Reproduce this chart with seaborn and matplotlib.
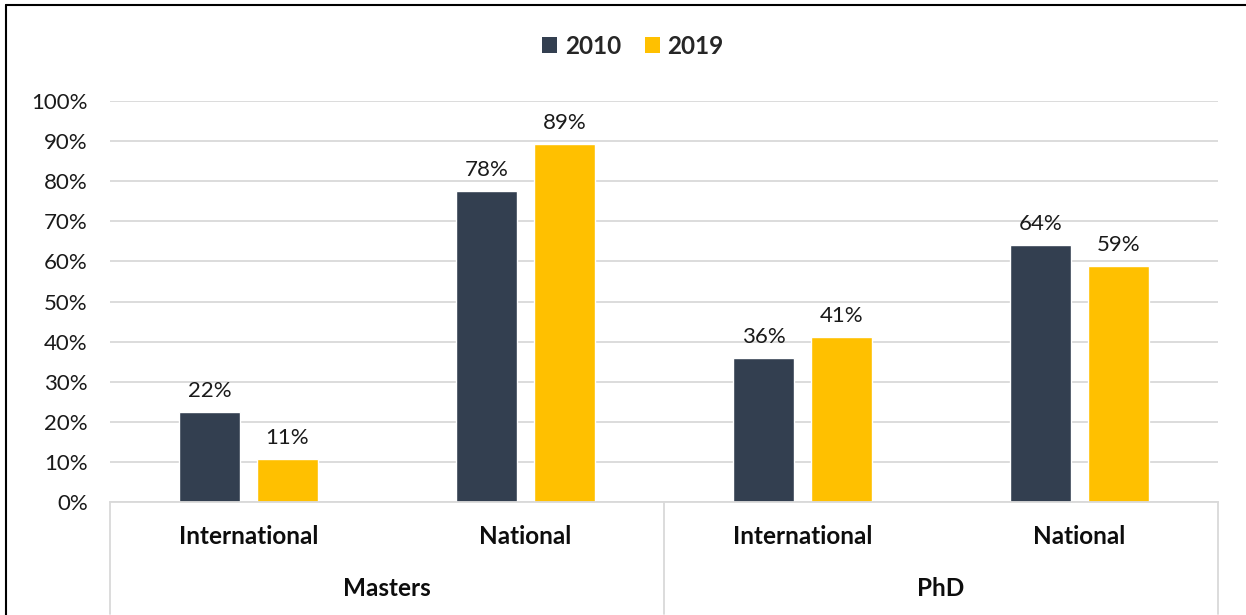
import matplotlib
matplotlib.use("Agg")
import matplotlib.pyplot as plt
from matplotlib.lines import Line2D
from matplotlib.patches import Patch
from matplotlib.transforms import blended_transform_factory
import seaborn as sns
import pandas as pd

# Share of graduates by degree level and origin
degrees = ["Masters", "Masters", "PhD", "PhD"]
origins = ["International", "National", "International", "National"]
years = ["2010", "2019"]
share_2010 = [0.224, 0.776, 0.360, 0.641]
share_2019 = [0.107, 0.893, 0.412, 0.588]

colors = {"2010": "#333F50", "2019": "#FFC000"}
grid_color = "#D9D9D9"

keys = [f"{d}|{o}" for d, o in zip(degrees, origins)]
df = pd.DataFrame({
    "key": keys * 2,
    "year": ["2010"] * 4 + ["2019"] * 4,
    "share": share_2010 + share_2019,
})

sns.set_theme(style="white")
plt.rcParams["font.family"] = ["Lato", "DejaVu Sans"]

fig = plt.figure(figsize=(12.46, 6.15), dpi=100)
ax = fig.add_axes([110 / 1246, 1 - 502 / 615, (1218 - 110) / 1246, (502 - 101) / 615])

sns.barplot(data=df, x="key", y="share", hue="year", order=keys,
            hue_order=years, palette=colors, width=0.56, gap=0.214,
            saturation=1, ax=ax, legend=False, errorbar=None)

ax.set_xlim(-0.5, 3.5)
ax.set_ylim(0, 1.0)
ax.set_yticks([i / 10 for i in range(11)])
ax.set_yticklabels([f"{i * 10}%" for i in range(11)], fontsize=16, color="#1a1a1a")
ax.tick_params(axis="y", length=0, pad=16)
ax.set_xticks([])
ax.set_xlabel("")
ax.set_ylabel("")
ax.grid(axis="y", color=grid_color, linewidth=1.3)
ax.set_axisbelow(True)
for side in ["left", "right", "top"]:
    ax.spines[side].set_visible(False)
ax.spines["bottom"].set_color(grid_color)
ax.spines["bottom"].set_linewidth(1.3)

for container in ax.containers:
    ax.bar_label(container, labels=[f"{v * 100:.0f}%" for v in container.datavalues],
                 padding=8, fontsize=16, color="#1a1a1a")

# Two-level category axis
trans = blended_transform_factory(ax.transData, ax.transAxes)
for xpos in [-0.5, 1.5, 3.5]:
    ax.add_line(Line2D([xpos, xpos], [0, -0.28], transform=trans, color=grid_color,
                       linewidth=1.3, clip_on=False))
for i, origin in enumerate(origins):
    ax.text(i, -0.085, origin, transform=trans, ha="center", va="center",
            fontsize=17.5, fontweight="bold", color="#0d0d0d")
for i, degree in enumerate(["Masters", "PhD"]):
    ax.text(2 * i + 0.5, -0.215, degree, transform=trans, ha="center", va="center",
            fontsize=17.5, fontweight="bold", color="#0d0d0d")

handles = [Patch(facecolor=colors[y], edgecolor="none", label=y) for y in years]
fig.legend(handles=handles, loc="center", bbox_to_anchor=(633 / 1246, 1 - 46 / 615),
           ncol=2, frameon=False, handlelength=0.62, handleheight=0.62,
           handletextpad=0.3, columnspacing=1.0,
           prop={"weight": "bold", "size": 17.5})

# Outer frame edges
fig.add_artist(Line2D([6 / 1246, 1], [1 - 5 / 615, 1 - 5 / 615], transform=fig.transFigure,
                      color="black", linewidth=1.5))
fig.add_artist(Line2D([6 / 1246, 6 / 1246], [0, 1 - 5 / 615], transform=fig.transFigure,
                      color="black", linewidth=1.5))

fig.savefig("out.png", dpi=100, facecolor="white")
